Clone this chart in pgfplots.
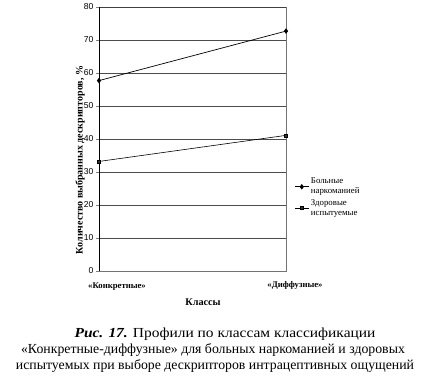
\documentclass[border=0pt]{standalone}
\usepackage{fontspec}
\setmainfont{Liberation Serif}
\setsansfont{Liberation Sans}
\usepackage{pgfplots}
\pgfplotsset{compat=1.18}
\begin{document}
\begin{tikzpicture}
\path[use as bounding box] (0,0) rectangle (426pt,386pt);
\begin{axis}[
  at={(99pt,115pt)}, anchor=south west,
  scale only axis, width=187pt, height=264pt,
  xmin=0, xmax=1, ymin=0, ymax=80,
  ytick={0,10,...,80}, xtick=\empty,
  ytick pos=left, tick align=outside, major tick length=3pt,
  ymajorgrids, grid style={black!70, line width=0.6pt},
  axis line style={black!55, line width=0.5pt},
  /pgf/number format/assume math mode=true,
  y tick label style={font=\sffamily\fontsize{8.6}{9}\selectfont, xshift=1pt},
  legend style={draw=none, fill=none, at={(1.045,0.36)}, anchor=north west,
    font=\fontsize{8.8}{10}\selectfont, cells={align=left}, row sep=0pt,
    inner sep=0pt},
  legend cell align=left,
  legend image code/.code={\draw[mark repeat=2,mark phase=2,#1] plot coordinates {(0cm,0cm)(0.24cm,0cm)(0.48cm,0cm)};},
]
\addplot[black, line width=0.7pt, mark=diamond*, mark size=2.2pt] coordinates {(0,57.7) (1,72.7)};
\addlegendentry{Больные\\наркоманией}
\addplot[black, line width=0.6pt, mark=square*, mark size=1.5pt, mark options={fill=black!80}] coordinates {(0,33.2) (1,41.1)};
\addlegendentry{Здоровые\\испытуемые}
\draw[black!75, line width=0.6pt] (rel axis cs:0,1) -- (rel axis cs:1,1);
\draw[black!75, line width=0.6pt] (rel axis cs:0,0) -- (rel axis cs:1,0);
\draw[black, line width=1pt] (rel axis cs:0,0) -- (rel axis cs:0,1);
\end{axis}
\node[rotate=90, font=\bfseries\fontsize{10}{11}\selectfont] at (80pt,226pt) {Количество выбранных дескрипторов, \%};
\node[font=\bfseries\fontsize{8.7}{10}\selectfont] at (117pt,99pt) {«Конкретные»};
\node[font=\bfseries\fontsize{8.7}{10}\selectfont] at (295pt,101pt) {«Диффузные»};
\node[font=\bfseries\fontsize{10.2}{12}\selectfont] at (203pt,84pt) {Классы};
\node[font=\fontsize{13.8}{15}\selectfont] at (225pt,52pt) {\scalebox{1.12}[1]{\textbf{\textit{Рис. 17.}} Профили по классам классификации}};
\node[font=\fontsize{13.8}{15}\selectfont] at (213pt,36pt) {«Конкретные-диффузные» для больных наркоманией и здоровых};
\node[font=\fontsize{13.8}{15}\selectfont] at (215pt,20pt) {испытуемых при выборе дескрипторов интрацептивных ощущений};
\end{tikzpicture}
\end{document}
